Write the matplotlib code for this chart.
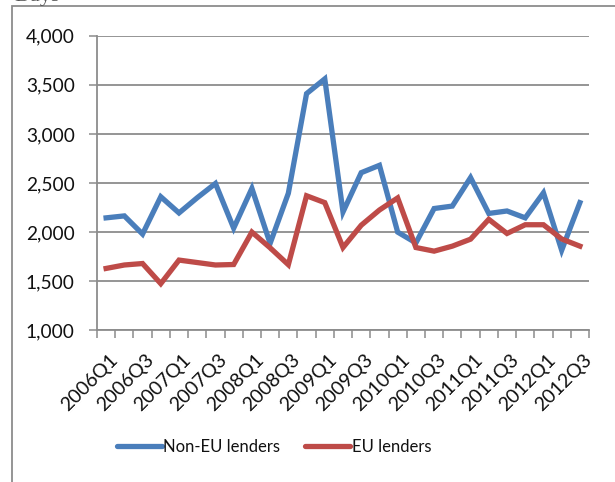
import numpy as np
import matplotlib.pyplot as plt
from matplotlib.patches import Rectangle
from matplotlib.lines import Line2D
import matplotlib.transforms as mtransforms

plt.rcParams['font.family'] = ['Lato', 'DejaVu Sans']

# quarterly data, 2006Q1 .. 2012Q3
quarters = [f"{y}Q{q}" for y in range(2006, 2013) for q in range(1, 5)][:27]
non_eu = [2145, 2165, 1980, 2360, 2195, 2350, 2495, 2040, 2445, 1885, 2395, 3410,
          3560, 2205, 2605, 2680, 2000, 1890, 2240, 2265, 2555, 2190, 2215, 2145,
          2400, 1815, 2300]
eu = [1630, 1665, 1680, 1475, 1715, 1690, 1665, 1670, 2000, 1840, 1668, 2370,
      2300, 1843, 2070, 2225, 2348, 1843, 1806, 1857, 1928, 2130, 1986, 2075,
      2075, 1930, 1857]
yticks = [1000, 1500, 2000, 2500, 3000, 3500, 4000]

BLUE = "#4A7EBB"
RED = "#BE4B48"
GRID = "#8C8C8C"

fig = plt.figure(figsize=(6.15, 4.82), dpi=100)
ax = fig.add_axes([97 / 615, 1 - 330.3 / 482, (589 - 97) / 615, (330.3 - 35.7) / 482])

x = np.arange(len(quarters))
ax.plot(x, non_eu, color=BLUE, lw=3.8, solid_joinstyle='miter', zorder=3)
ax.plot(x, eu, color=RED, lw=3.8, solid_joinstyle='miter', zorder=3)

ax.set_xlim(-0.5, len(quarters) - 0.5)
ax.set_ylim(1000, 4000)
ax.set_yticks(yticks)
ax.set_yticklabels([f"{v:,}" for v in yticks], fontsize=13.8)
ax.yaxis.grid(True, color=GRID, lw=1.3)
ax.set_axisbelow(True)
ax.tick_params(axis='y', length=6, width=1.1, color=GRID, pad=10, labelcolor='#111111')

ax.set_xticks(x[::2])
ax.set_xticklabels(quarters[::2], fontsize=14, rotation=45, ha='right',
                   va='top', rotation_mode='anchor', color='#111111')
ax.set_xticks(np.arange(-0.5, len(quarters)), minor=True)
ax.tick_params(axis='x', which='major', length=0, pad=15)
ax.tick_params(axis='x', which='minor', length=6, width=1.1, color=GRID)
off = mtransforms.ScaledTranslation(3 / 100, 0, fig.dpi_scale_trans)
for lab in ax.get_xticklabels():
    lab.set_transform(lab.get_transform() + off)

for s in ['top', 'right']:
    ax.spines[s].set_visible(False)
for s in ['left', 'bottom']:
    ax.spines[s].set_color(GRID)
    ax.spines[s].set_linewidth(1.3)

handles = [Line2D([], [], color=BLUE, lw=3.8, solid_capstyle='round'),
           Line2D([], [], color=RED, lw=3.8, solid_capstyle='round')]
fig.legend(handles, ["Non-EU lenders", "EU lenders"], loc='center',
           bbox_to_anchor=(274 / 615, 1 - 447 / 482), ncol=2, frameon=False,
           fontsize=12, handlelength=2.7, handletextpad=0.1, columnspacing=1.5,
           labelcolor='#111111')

# outer chart border (cut off at right and bottom)
fig.add_artist(Rectangle((12 / 615, -0.1), 1.2, 1.1 - 6 / 482,
                         transform=fig.transFigure, fill=False,
                         edgecolor=GRID, lw=1.3))
fig.text(14 / 615, 1 - 0.5 / 482, "Days", family='Liberation Serif',
         fontsize=16, va='baseline', ha='left', color='#555555')

fig.savefig("out.png", dpi=100)
